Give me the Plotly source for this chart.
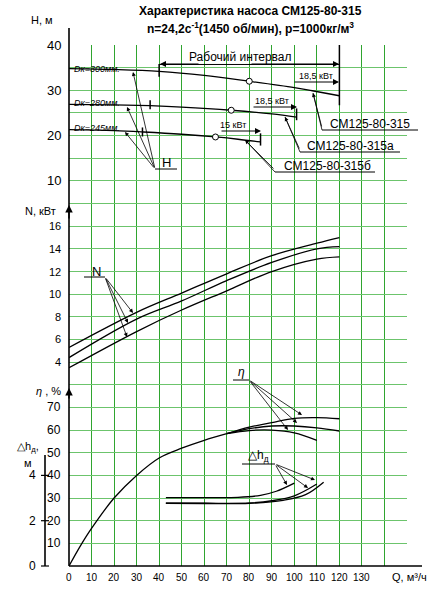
import plotly.graph_objects as go

# --- data ---
# head curves H(Q), m
q_300 = [0, 20, 40, 60, 80, 100, 108, 120]
h_300 = [34.8, 34.6, 34.2, 33.3, 32.0, 30.6, 29.9, 28.8]
q_280 = [0, 20, 36, 50, 72, 90, 101]
h_280 = [26.9, 26.8, 26.6, 26.3, 25.6, 24.8, 24.1]
q_245 = [0, 20, 33, 50, 65, 75, 85]
h_245 = [21.3, 21.1, 20.8, 20.3, 19.7, 19.2, 18.6]
# rated points (circles)
pt_q = [80, 72, 65]
pt_h = [32.0, 25.6, 19.7]

# power N(Q), kW
q_n = [0, 30, 50, 70, 90, 110, 120]
n_315 = [5.3, 8.4, 10.1, 11.8, 13.4, 14.5, 15.0]
n_315a = [4.4, 7.8, 9.4, 11.2, 12.8, 14.0, 14.2]
n_315b = [3.5, 6.7, 8.6, 10.3, 12.0, 13.1, 13.3]

# efficiency, %
q_eta_common = [0, 5, 10, 20, 30, 40, 50, 60, 70]
eta_common = [0, 8.8, 16.6, 30, 40, 47.7, 52, 55.5, 58.4]
q_eta_315 = [70, 80, 90, 100, 110, 120]
eta_315 = [58.4, 61.3, 63.3, 65.2, 65.5, 65.0]
q_eta_315a = [70, 80, 90, 100, 110, 120]
eta_315a = [58.4, 60.6, 61.8, 61.8, 61.0, 59.6]
q_eta_315b = [70, 80, 90, 100, 110]
eta_315b = [58.4, 59.8, 60.0, 58.8, 55.5]

# NPSH, m
q_dh1 = [43, 60, 75, 85, 92, 100]
dh1 = [3.02, 3.02, 3.03, 3.12, 3.3, 3.66]
q_dh2 = [43, 60, 80, 90, 100, 110]
dh2 = [2.77, 2.77, 2.78, 2.88, 3.1, 3.62]
q_dh3 = [43, 60, 80, 95, 105, 113]
dh3 = [2.77, 2.76, 2.77, 2.9, 3.15, 3.7]

q_ticks = [0, 10, 20, 30, 40, 50, 60, 70, 80, 90, 100, 110, 120, 130]
h_ticks = [10, 20, 30, 40]
n_ticks = [4, 6, 8, 10, 12, 14, 16]
eta_ticks = [10, 20, 30, 40, 50, 60, 70]
dh_ticks = [0, 2, 4]

# --- grid coordinates (one cell = 10 m3/h, 5 m, 2 kW, 10 %, 1 m) ---
def gx(q): return q / 10
def gH(h): return 15 + h / 5
def gN(n): return 7 + n / 2
def gE(e): return e / 10
def gD(d): return d

L, R, T, B = 69, 34, 45, 34
W, HGT = 441, 600
PW, PH = W - L - R, HGT - T - B
def px(x): return (x - L) / PW
def py(y): return (HGT - B - y) / PH
def dx(x): return (x - L) / PW * 15
def dy(y): return (HGT - B - y) / PH * 23

line = dict(color="black", width=1.3)
fig = go.Figure()

def curve(qs, vs, f):
    fig.add_trace(go.Scatter(x=[gx(q) for q in qs], y=[f(v) for v in vs], mode="lines",
                             line=dict(shape="spline", **line), showlegend=False, hoverinfo="skip"))

curve(q_300, h_300, gH)
curve(q_280, h_280, gH)
curve(q_245, h_245, gH)
fig.add_trace(go.Scatter(x=[gx(q) for q in pt_q], y=[gH(h) for h in pt_h], mode="markers",
                         marker=dict(size=6, color="white", line=dict(color="black", width=1)),
                         showlegend=False))
for ys in (n_315, n_315a, n_315b):
    curve(q_n, ys, gN)
curve(q_eta_common, eta_common, gE)
curve(q_eta_315, eta_315, gE)
curve(q_eta_315a, eta_315a, gE)
curve(q_eta_315b, eta_315b, gE)
curve(q_dh1, dh1, gD)
curve(q_dh2, dh2, gD)
curve(q_dh3, dh3, gD)

shapes = []
def seg(x0, y0, x1, y1, w=1.3):
    shapes.append(dict(type="line", xref="x", yref="y", x0=x0, y0=y0, x1=x1, y1=y1,
                       line=dict(color="black", width=w)))
def pseg(x0, y0, x1, y1, w=1.3):
    shapes.append(dict(type="line", xref="paper", yref="paper", x0=px(x0), y0=py(y0),
                       x1=px(x1), y1=py(y1), line=dict(color="black", width=w)))

# interval ticks
seg(gx(120), gH(40), gx(120), gH(26.7), 1.5)
seg(gx(40), gH(35.8), gx(40), gH(33), 1.5)
seg(gx(101), gH(26), gx(101), gH(23.4), 1.5)
seg(gx(36), gH(27.8), gx(36), gH(25.8), 1.5)
seg(gx(85), gH(20.5), gx(85), gH(17.8), 1.5)
seg(gx(32.6), gH(21.8), gx(32.6), gH(19.8), 1.5)

# axes
pseg(69, 28, 69, 566, 1.6)
pseg(69, 566, 422, 566, 1.6)
pseg(45, 455, 45, 566, 1.6)
for d in dh_ticks:
    pseg(41, 566 - d * 22.65, 49, 566 - d * 22.65, 1.2)
# label underlines
pseg(322, 130, 418, 130, 1)
pseg(300, 152, 400, 152, 1)
pseg(275, 172, 375, 172, 1)
pseg(155, 169, 177, 169, 1)
pseg(84, 277, 105, 277, 1)
pseg(233, 380, 249, 380, 1)
pseg(242, 464, 275, 464, 1)
pseg(313, 93, 322, 130, 0.8)
pseg(285, 117, 300, 152, 0.8)
pseg(245, 140, 275, 172, 0.8)

ann = []
def txt(x, y, s, size=11, anchor="center", **kw):
    ann.append(dict(xref="paper", yref="paper", x=px(x), y=py(y), text=s, showarrow=False,
                    xanchor=anchor, yanchor="middle", font=dict(size=size, color="black"), **kw))
def arrow(x0, y0, x1, y1, w=0.8, head=2, size=1):
    ann.append(dict(xref="x", yref="y", axref="x", ayref="y", x=dx(x1), y=dy(y1),
                    ax=dx(x0), ay=dy(y0), text="", showarrow=True, arrowhead=head,
                    arrowsize=size, arrowwidth=w, arrowcolor="black"))

# axis arrows
arrow(69, 40, 69, 28, 1.5, 2, 1)
arrow(69, 220, 69, 205, 1.5, 2, 1)
arrow(69, 400, 69, 388, 1.5, 2, 1)
arrow(45, 465, 45, 452, 1.5, 2, 1)
arrow(410, 566, 425, 566, 1.5, 2, 1)

# working interval
arrow(200, 64, 160, 64, 1, 2, 1.2)
arrow(250, 64, 339, 64, 1, 2, 1.2)
seg(gx(40), gH(35.7), gx(120), gH(35.7), 1)
txt(240, 57, "Рабочий интервал", 12)
arrow(293, 82, 339, 82, 1, 2, 1.2)
txt(316, 76, "18,5 кВт", 9)
arrow(252, 107, 297, 107, 1, 2, 1.2)
txt(272, 101, "18,5 кВт", 9)
arrow(220, 131, 261, 131, 1, 2, 1.2)
txt(233, 125, "15 кВт", 9)

# leaders
arrow(300, 150, 285, 117)
arrow(275, 170, 245, 140)
arrow(322, 128, 313, 93)
for tx, ty in [(133, 72), (127, 107), (125, 132)]:
    arrow(155, 169, tx, ty)
for tx, ty in [(133, 313), (128, 323), (127, 337)]:
    arrow(105, 277, tx, ty)
for tx, ty in [(302, 415), (297, 423), (288, 430)]:
    arrow(249, 380, tx, ty)
for tx, ty in [(287, 485), (315, 480), (308, 488)]:
    arrow(275, 464, tx, ty)

txt(370, 124, "СМ125-80-315", 12)
txt(350, 146, "СМ125-80-315а", 12)
txt(327, 166, "СМ125-80-315б", 12)
txt(166, 162, "Н", 13)
txt(96, 271, "N", 13)
txt(241, 372, "<i>η</i>", 12)
txt(258, 456, "△h<sub>д</sub>", 12)
txt(72, 69, "<i>Dк=300мм.</i>", 9, "left")
txt(72, 103, "<i>Dк=280мм.</i>", 9, "left")
txt(72, 128, "<i>Dк=245мм.</i>", 9, "left")

# titles
txt(250, 11, "<b>Характеристика насоса СМ125-80-315</b>", 12)
txt(250, 28, "<b>n=24,2с<sup>-1</sup>(1450 об/мин), р=1000кг/м<sup>3</sup></b>", 12)

# tick labels
for q in q_ticks:
    txt(L + gx(q) * PW / 15, 577, str(q), 10)
txt(409, 577, "Q, м³/ч", 11)
for h in h_ticks:
    txt(63, 566 - gH(h) * PH / 23, str(h), 13, "right")
txt(42, 20, "Н, м", 11)
for n in n_ticks:
    txt(63, 566 - gN(n) * PH / 23, str(n), 11, "right")
txt(40, 211, "N, кВт", 11)
for e in eta_ticks:
    txt(63, 566 - gE(e) * PH / 23, str(e), 12, "right")
txt(48, 391, "<i>η</i> , %", 11)
for d in dh_ticks:
    txt(38, 566 - gD(d) * PH / 23, str(d), 12, "right")
txt(28, 447, "△h<sub>д</sub>,", 11)
txt(28, 463, "м", 11)

fig.update_layout(
    width=W, height=HGT, margin=dict(l=L, r=R, t=T, b=B),
    plot_bgcolor="white", paper_bgcolor="white",
    font=dict(family="Liberation Sans, Arial", color="black"),
    shapes=shapes, annotations=ann, showlegend=False,
    xaxis=dict(range=[0, 15], dtick=1, showgrid=True, gridcolor="#2fa52f", gridwidth=1.2,
               showticklabels=False, zeroline=False, showline=False, fixedrange=True),
    yaxis=dict(range=[0, 23], dtick=1, showgrid=True, gridcolor="#6cc46c", gridwidth=1.2,
               showticklabels=False, zeroline=False, showline=False, fixedrange=True),
)

fig.write_html("out.html", config={"displayModeBar": False},
               post_script="document.body.style.margin='0';")
